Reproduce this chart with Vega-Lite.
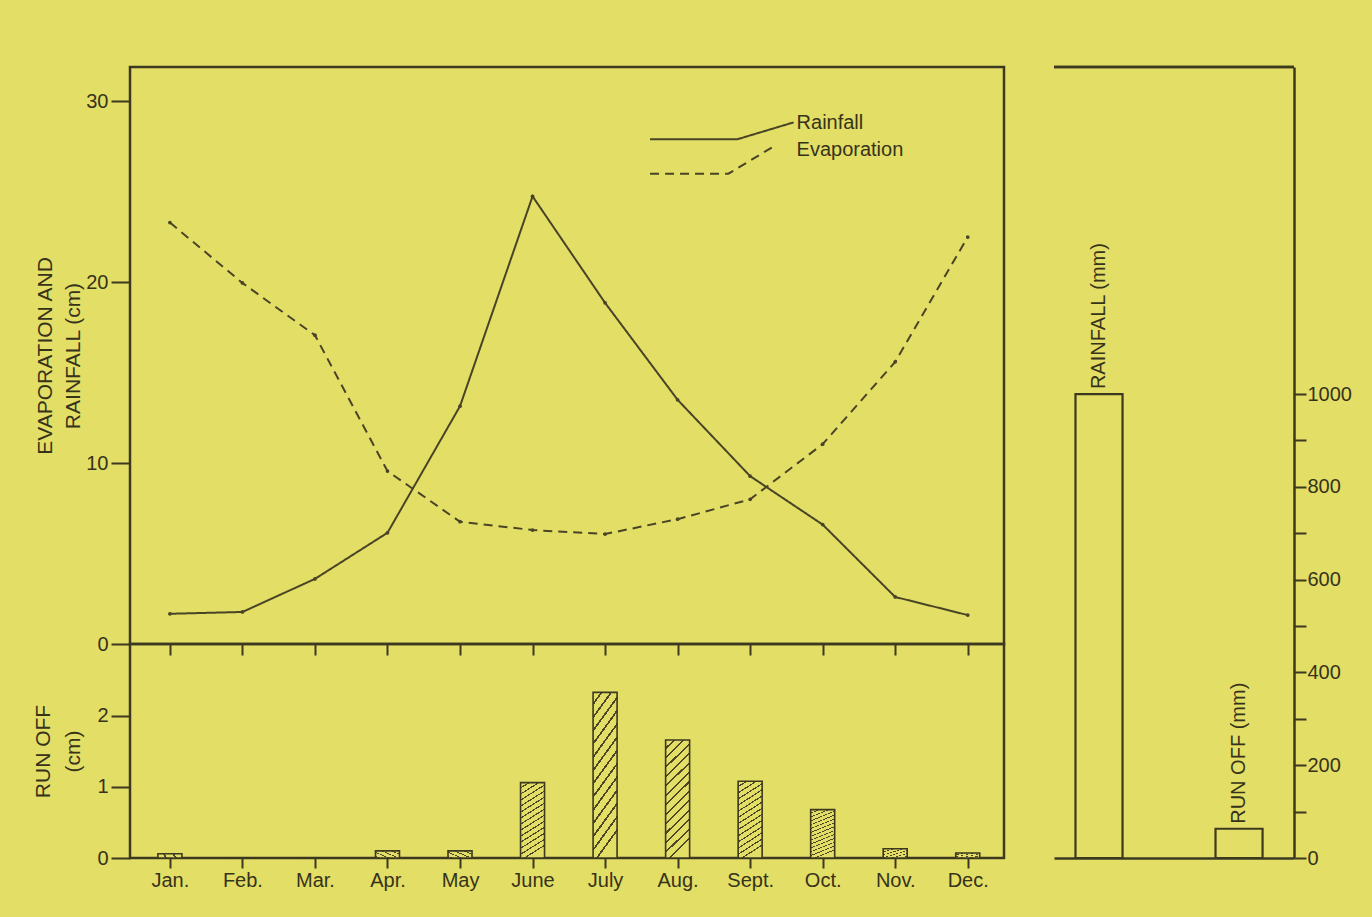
{
  "$schema": "https://vega.github.io/schema/vega-lite/v6.json",
  "background": "#e3de66",
  "padding": {"left": 30, "top": 65, "right": 20, "bottom": 30},
  "config": {
    "font": "Liberation Sans",
    "axis": {
      "domainColor": "#3d3820",
      "tickColor": "#3d3820",
      "labelColor": "#36331b",
      "titleColor": "#36331b",
      "labelFontSize": 20,
      "titleFontSize": 21,
      "titleFontWeight": "normal",
      "grid": false,
      "tickWidth": 2,
      "domainWidth": 2.5,
      "labelOverlap": false,
      "labelFlush": false
    },
    "text": {"font": "Liberation Sans"}
  },
  "resolve": {"scale": {"x": "independent", "y": "independent"}},
  "spacing": 46,
  "hconcat": [
    {
      "spacing": 0,
      "bounds": "flush",
      "resolve": {"scale": {"x": "independent", "y": "independent"}},
      "vconcat": [
        {
          "width": 874,
          "height": 577,
          "view": {"stroke": "#3d3820", "strokeWidth": 2.5},
          "layer": [
            {
              "data": {
                "values": [
                  {"m": 1, "month": "Jan.", "series": "Rainfall", "cm": 1.67},
                  {"m": 2, "month": "Feb.", "series": "Rainfall", "cm": 1.77},
                  {"m": 3, "month": "Mar.", "series": "Rainfall", "cm": 3.6},
                  {"m": 4, "month": "Apr.", "series": "Rainfall", "cm": 6.15},
                  {"m": 5, "month": "May", "series": "Rainfall", "cm": 13.15},
                  {"m": 6, "month": "June", "series": "Rainfall", "cm": 24.75},
                  {"m": 7, "month": "July", "series": "Rainfall", "cm": 18.86},
                  {"m": 8, "month": "Aug.", "series": "Rainfall", "cm": 13.5},
                  {"m": 9, "month": "Sept.", "series": "Rainfall", "cm": 9.28},
                  {"m": 10, "month": "Oct.", "series": "Rainfall", "cm": 6.6},
                  {"m": 11, "month": "Nov.", "series": "Rainfall", "cm": 2.6},
                  {"m": 12, "month": "Dec.", "series": "Rainfall", "cm": 1.6},
                  {"m": 1, "month": "Jan.", "series": "Evaporation", "cm": 23.3},
                  {"m": 2, "month": "Feb.", "series": "Evaporation", "cm": 19.96},
                  {"m": 3, "month": "Mar.", "series": "Evaporation", "cm": 17.07},
                  {"m": 4, "month": "Apr.", "series": "Evaporation", "cm": 9.56},
                  {"m": 5, "month": "May", "series": "Evaporation", "cm": 6.76},
                  {"m": 6, "month": "June", "series": "Evaporation", "cm": 6.3},
                  {"m": 7, "month": "July", "series": "Evaporation", "cm": 6.08},
                  {"m": 8, "month": "Aug.", "series": "Evaporation", "cm": 6.9},
                  {"m": 9, "month": "Sept.", "series": "Evaporation", "cm": 8.0},
                  {"m": 10, "month": "Oct.", "series": "Evaporation", "cm": 11.05},
                  {"m": 11, "month": "Nov.", "series": "Evaporation", "cm": 15.6},
                  {"m": 12, "month": "Dec.", "series": "Evaporation", "cm": 22.5}
                ]
              },
              "mark": {
                "type": "line",
                "strokeWidth": 2,
                "color": "#4a4426",
                "point": {"filled": true, "size": 14, "color": "#4a4426"}
              },
              "encoding": {
                "x": {
                  "field": "m",
                  "type": "quantitative",
                  "scale": {"domain": [0.45, 12.5], "nice": false, "zero": false, "padding": 0},
                  "axis": {"values": [1, 2, 3, 4, 5, 6, 7, 8, 9, 10, 11, 12], "labels": false, "tickSize": 11, "domain": false, "title": null}
                },
                "y": {
                  "field": "cm",
                  "type": "quantitative",
                  "scale": {"domain": [0, 31.9], "nice": false},
                  "axis": {
                    "values": [0, 10, 20, 30],
                    "tickSize": 19,
                    "labelPadding": 3,
                    "domain": false,
                    "title": ["EVAPORATION AND", "RAINFALL (cm)"],
                    "titleLineHeight": 28,
                    "titlePadding": 3,
                    "minExtent": 44,
                    "maxExtent": 44
                  }
                },
                "strokeDash": {
                  "field": "series",
                  "type": "nominal",
                  "scale": {"domain": ["Rainfall", "Evaporation"], "range": [[1, 0], [9, 6]]},
                  "legend": null
                }
              }
            },
            {
              "data": {
                "values": [
                  {"series": "Rainfall", "k": 1, "m": 7.62, "cm": 27.9},
                  {"series": "Rainfall", "k": 2, "m": 8.82, "cm": 27.9},
                  {"series": "Rainfall", "k": 3, "m": 9.6, "cm": 28.84},
                  {"series": "Evaporation", "k": 1, "m": 7.62, "cm": 26.0},
                  {"series": "Evaporation", "k": 2, "m": 8.7, "cm": 26.0},
                  {"series": "Evaporation", "k": 3, "m": 9.32, "cm": 27.5}
                ]
              },
              "mark": {"type": "line", "strokeWidth": 2, "color": "#4a4426"},
              "encoding": {
                "x": {"field": "m", "type": "quantitative"},
                "y": {"field": "cm", "type": "quantitative"},
                "order": {"field": "k", "type": "quantitative"},
                "strokeDash": {"field": "series", "type": "nominal", "legend": null}
              }
            },
            {
              "data": {
                "values": [
                  {"label": "Rainfall", "m": 9.64, "cm": 28.8},
                  {"label": "Evaporation", "m": 9.64, "cm": 27.3}
                ]
              },
              "mark": {"type": "text", "align": "left", "baseline": "middle", "fontSize": 20, "color": "#36331b"},
              "encoding": {
                "x": {"field": "m", "type": "quantitative"},
                "y": {"field": "cm", "type": "quantitative"},
                "text": {"field": "label"}
              }
            }
          ]
        },
        {
          "width": 874,
          "height": 214,
          "view": {"stroke": "#3d3820", "strokeWidth": 2.5},
          "data": {
            "values": [
              {"m": 1, "month": "Jan.", "runoff": 0.06},
              {"m": 2, "month": "Feb.", "runoff": 0},
              {"m": 3, "month": "Mar.", "runoff": 0},
              {"m": 4, "month": "Apr.", "runoff": 0.1},
              {"m": 5, "month": "May", "runoff": 0.1},
              {"m": 6, "month": "June", "runoff": 1.06},
              {"m": 7, "month": "July", "runoff": 2.33},
              {"m": 8, "month": "Aug.", "runoff": 1.66},
              {"m": 9, "month": "Sept.", "runoff": 1.08},
              {"m": 10, "month": "Oct.", "runoff": 0.68},
              {"m": 11, "month": "Nov.", "runoff": 0.13},
              {"m": 12, "month": "Dec.", "runoff": 0.07}
            ]
          },
          "mark": {
            "type": "bar",
            "size": 24,
            "stroke": "#3d3820",
            "strokeWidth": 1.6,
            "fill": {
              "gradient": "linear",
              "x1": 0, "y1": 0, "x2": 0.2, "y2": 1,
              "stops": [
                {"offset": 0, "color": "#e3de66"}, {"offset": 0.06, "color": "#e3de66"}, {"offset": 0.06, "color": "#4d4728"}, {"offset": 0.0769, "color": "#4d4728"},
                {"offset": 0.0769, "color": "#e3de66"}, {"offset": 0.1369, "color": "#e3de66"}, {"offset": 0.1369, "color": "#4d4728"}, {"offset": 0.1538, "color": "#4d4728"},
                {"offset": 0.1538, "color": "#e3de66"}, {"offset": 0.2138, "color": "#e3de66"}, {"offset": 0.2138, "color": "#4d4728"}, {"offset": 0.2308, "color": "#4d4728"},
                {"offset": 0.2308, "color": "#e3de66"}, {"offset": 0.2908, "color": "#e3de66"}, {"offset": 0.2908, "color": "#4d4728"}, {"offset": 0.3077, "color": "#4d4728"},
                {"offset": 0.3077, "color": "#e3de66"}, {"offset": 0.3677, "color": "#e3de66"}, {"offset": 0.3677, "color": "#4d4728"}, {"offset": 0.3846, "color": "#4d4728"},
                {"offset": 0.3846, "color": "#e3de66"}, {"offset": 0.4446, "color": "#e3de66"}, {"offset": 0.4446, "color": "#4d4728"}, {"offset": 0.4615, "color": "#4d4728"},
                {"offset": 0.4615, "color": "#e3de66"}, {"offset": 0.5215, "color": "#e3de66"}, {"offset": 0.5215, "color": "#4d4728"}, {"offset": 0.5385, "color": "#4d4728"},
                {"offset": 0.5385, "color": "#e3de66"}, {"offset": 0.5985, "color": "#e3de66"}, {"offset": 0.5985, "color": "#4d4728"}, {"offset": 0.6154, "color": "#4d4728"},
                {"offset": 0.6154, "color": "#e3de66"}, {"offset": 0.6754, "color": "#e3de66"}, {"offset": 0.6754, "color": "#4d4728"}, {"offset": 0.6923, "color": "#4d4728"},
                {"offset": 0.6923, "color": "#e3de66"}, {"offset": 0.7523, "color": "#e3de66"}, {"offset": 0.7523, "color": "#4d4728"}, {"offset": 0.7692, "color": "#4d4728"},
                {"offset": 0.7692, "color": "#e3de66"}, {"offset": 0.8292, "color": "#e3de66"}, {"offset": 0.8292, "color": "#4d4728"}, {"offset": 0.8462, "color": "#4d4728"},
                {"offset": 0.8462, "color": "#e3de66"}, {"offset": 0.9062, "color": "#e3de66"}, {"offset": 0.9062, "color": "#4d4728"}, {"offset": 0.9231, "color": "#4d4728"},
                {"offset": 0.9231, "color": "#e3de66"}, {"offset": 0.9831, "color": "#e3de66"}, {"offset": 0.9831, "color": "#4d4728"}, {"offset": 1, "color": "#4d4728"},
                {"offset": 1, "color": "#e3de66"}
              ]
            }
          },
          "encoding": {
            "x": {
              "field": "m",
              "type": "quantitative",
              "scale": {"domain": [0.45, 12.5], "nice": false, "zero": false, "padding": 0},
              "axis": {
                "values": [1, 2, 3, 4, 5, 6, 7, 8, 9, 10, 11, 12],
                "labelExpr": "['Jan.','Feb.','Mar.','Apr.','May','June','July','Aug.','Sept.','Oct.','Nov.','Dec.'][datum.value - 1]",
                "tickSize": 10,
                "labelPadding": 2,
                "domain": false,
                "title": null
              }
            },
            "y": {
              "field": "runoff",
              "type": "quantitative",
              "scale": {"domain": [0, 3.01], "nice": false},
              "axis": {
                "values": [0, 1, 2],
                "tickSize": 19,
                "labelPadding": 3,
                "domain": false,
                "title": ["RUN OFF", "(cm)"],
                "titleLineHeight": 30,
                "titlePadding": 3,
                "minExtent": 44,
                "maxExtent": 44
              }
            }
          }
        }
      ]
    },
    {
      "width": 240,
      "height": 791,
      "view": {"stroke": null},
      "data": {
        "values": [
          {"name": "RAINFALL (mm)", "mm": 1000},
          {"name": "RUN OFF (mm)", "mm": 63}
        ]
      },
      "layer": [
        {
          "mark": {"type": "bar", "fill": "transparent", "stroke": "#3d3820", "strokeWidth": 2.2},
          "encoding": {
            "x": {
              "field": "name",
              "type": "nominal",
              "sort": null,
              "scale": {"type": "band", "paddingInner": 0.664, "paddingOuter": 0.189, "align": 0.406},
              "axis": {"labels": false, "ticks": false, "domain": true, "title": null}
            },
            "y": {
              "field": "mm",
              "type": "quantitative",
              "scale": {"domain": [0, 1705], "nice": false},
              "axis": {
                "orient": "right",
                "values": [0, 100, 200, 300, 400, 500, 600, 700, 800, 900, 1000],
                "format": "d",
                "labelExpr": "datum.value % 200 === 0 ? datum.label : ''",
                "tickSize": 12,
                "labelPadding": 1,
                "title": null
              }
            }
          }
        },
        {
          "mark": {"type": "text", "angle": 270, "align": "left", "baseline": "middle", "dx": 5, "fontSize": 20, "color": "#36331b"},
          "encoding": {
            "x": {"field": "name", "type": "nominal", "sort": null},
            "y": {"field": "mm", "type": "quantitative"},
            "text": {"field": "name"}
          }
        },
        {
          "mark": {"type": "rule", "color": "#3d3820", "strokeWidth": 2.5},
          "encoding": {"y": {"datum": 1705}}
        }
      ]
    }
  ]
}
